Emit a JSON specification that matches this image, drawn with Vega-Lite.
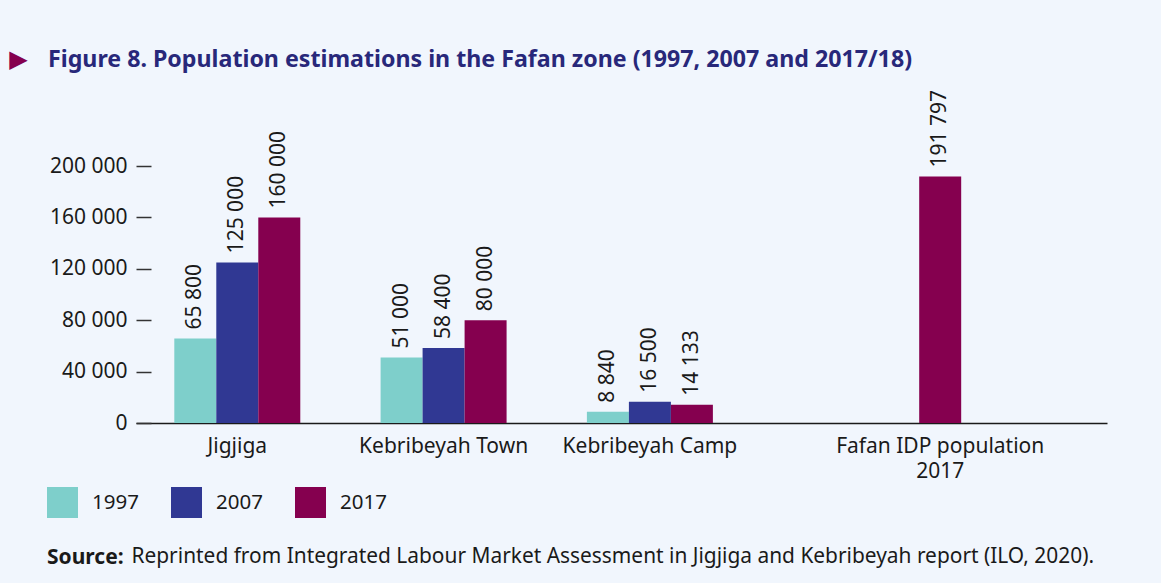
{
  "$schema": "https://vega.github.io/schema/vega-lite/v6.json",
  "width": 971,
  "height": 257,
  "autosize": {"type": "none"},
  "padding": {"left": 136, "top": 166, "right": 54, "bottom": 160},
  "background": "#f1f6fd",
  "title": {
    "text": "Figure 8. Population estimations in the Fafan zone (1997, 2007 and 2017/18)",
    "anchor": "start",
    "frame": "group",
    "dx": -88,
    "dy": 43,
    "offset": 0,
    "baseline": "alphabetic",
    "font": "Noto Sans",
    "fontSize": 23.2,
    "fontWeight": "bold",
    "color": "#28287a"
  },
  "data": {
    "values": [
      {"location": "Jigjiga", "year": "1997", "slot": "1997", "population": 65800},
      {"location": "Jigjiga", "year": "2007", "slot": "2007", "population": 125000},
      {"location": "Jigjiga", "year": "2017", "slot": "2017", "population": 160000},
      {"location": "Kebribeyah Town", "year": "1997", "slot": "1997", "population": 51000},
      {"location": "Kebribeyah Town", "year": "2007", "slot": "2007", "population": 58400},
      {"location": "Kebribeyah Town", "year": "2017", "slot": "2017", "population": 80000},
      {"location": "Kebribeyah Camp", "year": "1997", "slot": "1997", "population": 8840},
      {"location": "Kebribeyah Camp", "year": "2007", "slot": "2007", "population": 16500},
      {"location": "Kebribeyah Camp", "year": "2017", "slot": "2017", "population": 14133},
      {"location": "Fafan IDP population 2017", "year": "2017", "slot": "IDP", "population": 191797}
    ]
  },
  "encoding": {
    "x": {
      "field": "location",
      "type": "nominal",
      "sort": null,
      "scale": {"paddingInner": 0.1857, "paddingOuter": 0.4462, "align": 0.208},
      "axis": {
        "title": "Reprinted from Integrated Labour Market Assessment in Jigjiga and Kebribeyah report (ILO, 2020).",
        "titleX": -5,
        "titleY": 139,
        "titleAlign": "left",
        "titleAnchor": "start",
        "titleBaseline": "alphabetic",
        "titleAngle": 0,
        "titleFont": "Noto Sans",
        "titleFontSize": 20.9,
        "titleFontWeight": "normal",
        "titleColor": "#1a1a1a",
        "titleLimit": 0,
        "labelAngle": 0,
        "labelFont": "Noto Sans",
        "labelFontSize": 21,
        "labelColor": "#1a1a1a",
        "labelPadding": 12,
        "labelLineHeight": 25,
        "labelLimit": 0,
        "labelExpr": "datum.value == 'Fafan IDP population 2017' ? ['Fafan IDP population', '2017'] : datum.label",
        "labelOffset": {"condition": {"test": "datum.value == 'Fafan IDP population 2017'", "value": 63}, "value": -21},
        "ticks": false,
        "domainColor": "#1a1a1a",
        "domainWidth": 1.5
      }
    },
    "xOffset": {
      "field": "slot",
      "type": "nominal",
      "scale": {"domain": ["1997", "2007", "2017", "IDP"], "paddingInner": 0, "paddingOuter": 0}
    },
    "y": {
      "field": "population",
      "type": "quantitative",
      "scale": {"domain": [0, 200000], "nice": false},
      "axis": {
        "title": "▶",
        "titleX": -118,
        "titleY": -107,
        "titleAngle": 0,
        "titleAlign": "center",
        "titleBaseline": "middle",
        "titleFont": "DejaVu Sans",
        "titleFontSize": 24,
        "titleColor": "#85004f",
        "values": [0, 40000, 80000, 120000, 160000, 200000],
        "format": ",d",
        "labelFont": "Noto Sans",
        "labelFontSize": 21,
        "labelColor": "#1a1a1a",
        "labelPadding": 24,
        "tickSize": -15,
        "tickColor": "#333333",
        "tickWidth": 1.5,
        "domain": false,
        "grid": false
      }
    }
  },
  "layer": [
    {
      "mark": {"type": "bar"},
      "encoding": {
        "color": {
          "field": "year",
          "type": "nominal",
          "scale": {"domain": ["1997", "2007", "2017"], "range": ["#7ecfcb", "#303893", "#85004f"]},
          "legend": {
            "title": "Source:",
            "orient": "none",
            "legendX": -89,
            "legendY": 321,
            "direction": "horizontal",
            "titleOrient": "bottom",
            "titlePadding": 29,
            "titleFont": "Noto Sans",
            "titleFontSize": 21,
            "titleFontWeight": "bold",
            "titleColor": "#1a1a1a",
            "symbolType": "square",
            "symbolSize": 961,
            "symbolStrokeWidth": 0,
            "symbolOpacity": 1,
            "labelFont": "Noto Sans",
            "labelFontSize": 20.5,
            "labelColor": "#1a1a1a",
            "labelOffset": 14,
            "columnPadding": 32
          }
        }
      }
    },
    {
      "mark": {
        "type": "text",
        "angle": 270,
        "align": "left",
        "baseline": "middle",
        "dx": 9,
        "font": "Noto Sans",
        "fontSize": 21,
        "color": "#1a1a1a"
      },
      "encoding": {
        "text": {"field": "population", "type": "quantitative", "format": ",d"}
      }
    }
  ],
  "config": {
    "locale": {"number": {"decimal": ".", "thousands": " ", "grouping": [3], "currency": ["", ""]}},
    "view": {"stroke": null}
  }
}
